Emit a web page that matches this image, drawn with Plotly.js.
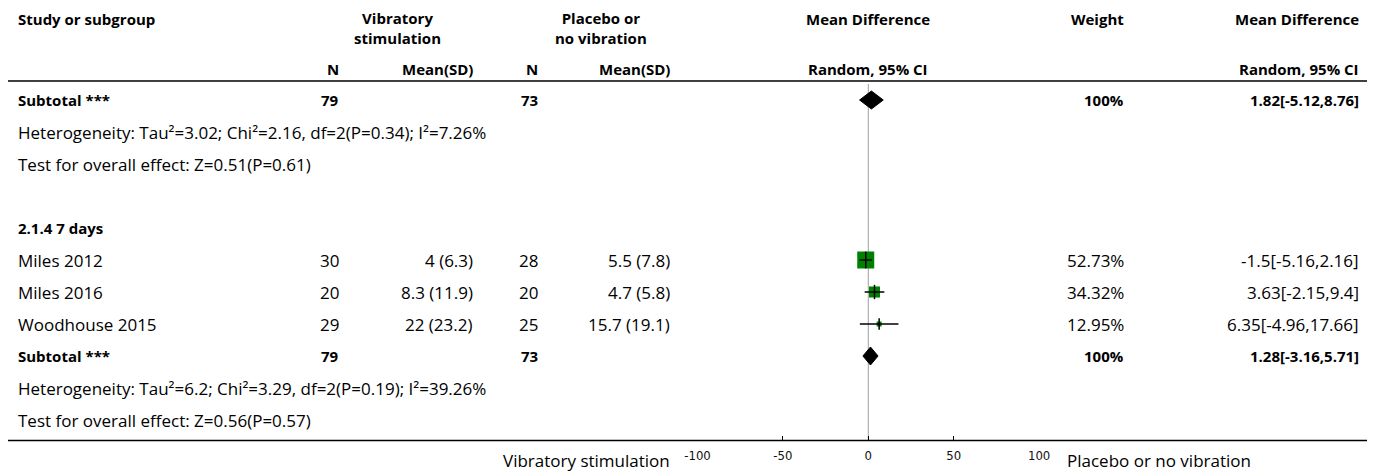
<!DOCTYPE html>
<html>
<head>
<meta charset="utf-8">
<script src="https://cdn.plot.ly/plotly-3.0.1.min.js"></script>
<style>html,body{margin:0;padding:0;background:#fff;}#chart{width:1375px;height:473px;}</style>
</head>
<body>
<div id="chart"></div>
<script>
// ---------- data ----------
const studies   = ['Miles 2012', 'Miles 2016', 'Woodhouse 2015'];
const nExp      = [30, 20, 29];
const meanExp   = [4, 8.3, 22];
const sdExp     = [6.3, 11.9, 23.2];
const nCtl      = [28, 20, 25];
const meanCtl   = [5.5, 4.7, 15.7];
const sdCtl     = [7.8, 5.8, 19.1];
const md        = [-1.5, 3.63, 6.35];
const mdLo      = [-5.16, -2.15, -4.96];
const mdHi      = [2.16, 9.4, 17.66];
const weights   = [52.73, 34.32, 12.95];

const overall   = {nExp: 79, nCtl: 73, md: 1.82, lo: -5.12, hi: 8.76, weight: 100,
                   het: 'Heterogeneity: Tau²=3.02; Chi²=2.16, df=2(P=0.34); I²=7.26%',
                   test: 'Test for overall effect: Z=0.51(P=0.61)'};
const subgroupName = '2.1.4 7 days';
const subgroup  = {nExp: 79, nCtl: 73, md: 1.28, lo: -3.16, hi: 5.71, weight: 100,
                   het: 'Heterogeneity: Tau²=6.2; Chi²=3.29, df=2(P=0.19); I²=39.26%',
                   test: 'Test for overall effect: Z=0.56(P=0.57)'};
const tickVals  = [-100, -50, 0, 50, 100];
const leftLabel = 'Vibratory stimulation';
const rightLabel = 'Placebo or no vibration';

// ---------- layout helpers ----------
const W = 1375, H = 473;
const ROW0 = 100, ROWH = 32;           // pixel of row 0, row height
const rowOf = px => (px - ROW0) / ROWH; // pixel -> row units
const P = px => px / W;                 // pixel -> paper x
const FONT = '"Open Sans", "Source Sans Pro", sans-serif';
const FS = 17;
const BFONT = '"Open Sans", sans-serif';
const BFS = 15;

const ann = [];
function txt(x, row, text, anchor, bold) {
  ann.push({xref: 'paper', yref: 'y', x: P(x), y: row, text: text, showarrow: false,
            xanchor: anchor, yanchor: 'middle',
            font: bold ? {family: BFONT, size: BFS, color: '#000', weight: 'bold'}
                       : {family: FONT, size: FS, color: '#000'}});
}

// columns
const cName = 16, cN1 = 341, cM1 = 475, cN2 = 540, cM2 = 672, cW = 1126, cMD = 1361, cPlot = 868;

// header
txt(cName, rowOf(19), 'Study or subgroup', 'left', true);
txt(397, rowOf(28), 'Vibratory<br>stimulation', 'center', true);
txt(601, rowOf(28), 'Placebo or<br>no vibration', 'center', true);
txt(cN1, rowOf(69), 'N', 'right', true);
txt(cM1, rowOf(69), 'Mean(SD)', 'right', true);
txt(cN2, rowOf(69), 'N', 'right', true);
txt(cM2, rowOf(69), 'Mean(SD)', 'right', true);
txt(cPlot, rowOf(19), 'Mean Difference', 'center', true);
txt(cPlot, rowOf(69), 'Random, 95% CI', 'center', true);
txt(cW, rowOf(19), 'Weight', 'right', true);
txt(cMD, rowOf(19), 'Mean Difference', 'right', true);
txt(cMD, rowOf(69), 'Random, 95% CI', 'right', true);

function ciText(m, l, h) { return m + '[' + l + ',' + h + ']'; }

function summaryRows(r, s) {
  txt(cName, r, 'Subtotal ***', 'left', true);
  txt(cN1, r, String(s.nExp), 'right', true);
  txt(cN2, r, String(s.nCtl), 'right', true);
  txt(cW, r, s.weight + '%', 'right', true);
  txt(cMD, r, ciText(s.md, s.lo, s.hi), 'right', true);
  txt(cName, r + 1, s.het, 'left');
  txt(cName, r + 2, s.test, 'left');
}
summaryRows(0, overall);
txt(cName, 4, subgroupName, 'left', true);
const studyRows = studies.map((s, i) => 5 + i);
studies.forEach((s, i) => {
  const r = studyRows[i];
  txt(cName, r, s, 'left');
  txt(cN1, r, String(nExp[i]), 'right');
  txt(cM1, r, meanExp[i] + ' (' + sdExp[i] + ')', 'right');
  txt(cN2, r, String(nCtl[i]), 'right');
  txt(cM2, r, meanCtl[i] + ' (' + sdCtl[i] + ')', 'right');
  txt(cW, r, weights[i].toFixed(2) + '%', 'right');
  txt(cMD, r, ciText(md[i], mdLo[i], mdHi[i]), 'right');
});
const subRow = 5 + studies.length;
summaryRows(subRow, subgroup);

// axis side labels
txt(672, rowOf(460), leftLabel, 'right');
txt(1065, rowOf(460), rightLabel, 'left');

// ---------- traces ----------
const traces = [];
const maxW = Math.max.apply(null, weights);
traces.push({type: 'scatter', mode: 'markers', x: md, y: studyRows,
             marker: {symbol: 'square', color: '#008000', opacity: 1,
                      size: weights.map(w => Math.max(5, 17 * w / maxW)), line: {width: 0}},
             showlegend: false, hoverinfo: 'skip'});
studies.forEach((s, i) => {
  traces.push({type: 'scatter', mode: 'lines', x: [mdLo[i], mdHi[i]], y: [studyRows[i], studyRows[i]],
               line: {color: '#000', width: 1.5}, hoverinfo: 'skip', showlegend: false});
});
traces.push({type: 'scatter', mode: 'markers', x: md, y: studyRows,
             marker: {symbol: 'line-ns', opacity: 1, size: weights.map(w => 7 + 5 * w / maxW),
                      line: {color: '#000', width: 1.5}},
             showlegend: false, hoverinfo: 'skip'});
const halfH = 9 / ROWH;
[[0, overall], [subRow, subgroup]].forEach(([r, s]) => {
  traces.push({type: 'scatter', mode: 'lines', fill: 'toself', fillcolor: '#000',
               x: [s.lo, s.md, s.hi, s.md, s.lo], y: [r, r - halfH, r, r + halfH, r],
               line: {color: '#000', width: 1}, showlegend: false, hoverinfo: 'skip'});
});

// ---------- shapes ----------
const AXY = 440.5;
const shapes = [
  {type: 'line', xref: 'paper', yref: 'y', x0: P(8), x1: P(1367), y0: rowOf(81), y1: rowOf(81), line: {color: '#000', width: 1.5}},
  {type: 'line', xref: 'paper', yref: 'y', x0: P(8), x1: P(1367), y0: rowOf(AXY), y1: rowOf(AXY), line: {color: '#000', width: 1.5}},
  {type: 'line', xref: 'x', yref: 'y', x0: 0, x1: 0, y0: rowOf(84), y1: rowOf(AXY), line: {color: '#a0a0a0', width: 1}, layer: 'below'}
];

const xPx = v => 868.3 + 1.708 * v;
const layout = {
  width: W, height: H,
  margin: {l: 0, r: 0, t: 0, b: 0, pad: 0},
  paper_bgcolor: '#fff', plot_bgcolor: 'rgba(0,0,0,0)',
  showlegend: false,
  xaxis: {domain: [P(xPx(-100)), P(xPx(100))], range: [-100, 100], anchor: 'free', position: (H - AXY) / H,
          tickvals: tickVals, ticktext: tickVals.map(String), ticks: 'inside', ticklen: 5, tickwidth: 1, tickcolor: '#000',
          showline: false, showgrid: false, zeroline: false, ticklabelstandoff: 5,
          tickfont: {family: '"DejaVu Sans Condensed", "DejaVu Sans", sans-serif', size: 13, color: '#111'}, fixedrange: true},
  yaxis: {domain: [0, 1], range: [rowOf(H), rowOf(0)], visible: false, showgrid: false, zeroline: false, fixedrange: true},
  shapes: shapes,
  annotations: ann
};
Plotly.newPlot('chart', traces, layout, {displayModeBar: false, staticPlot: true});
</script>
</body>
</html>
